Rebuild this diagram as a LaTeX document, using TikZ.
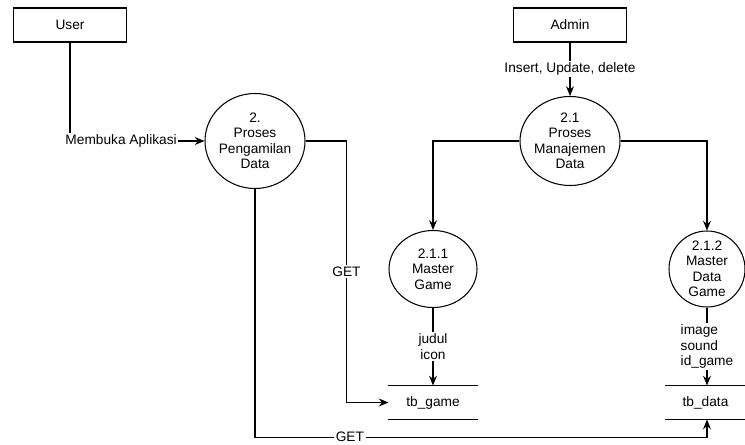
\documentclass[tikz,border=0pt]{standalone}
\usepackage{fontspec}
\setmainfont{Liberation Sans}
\usetikzlibrary{shapes.geometric, arrows.meta, positioning}

\begin{document}
\begin{tikzpicture}[font=\fontsize{7.8}{8.8}\selectfont, line width=0.6pt]
\tikzstyle{entity} = [rectangle, draw, minimum width=2.27cm, minimum height=0.68cm]
\tikzstyle{process} = [ellipse, draw, align=center, inner sep=-4pt]
\tikzstyle{store} = [rectangle, minimum width=1.76cm, minimum height=0.66cm]
\tikzstyle{arrow} = [-{Stealth[length=5.5pt,width=4.5pt]}]
\tikzstyle{lbl} = [fill=white, inner sep=1pt, align=center]

\useasboundingbox (0,0) rectangle (14.9,-8.9);

\node (user) [entity] at (1.4,-0.5) {User};
\node (admin) [entity] at (11.4,-0.5) {Admin};
\node (p2) [process, minimum width=2cm, minimum height=1.9cm] at (5.1,-2.82) {2.\\Proses\\Pengamilan\\Data};
\node (p21) [process, minimum width=2cm, minimum height=1.78cm] at (11.4,-2.82) {2.1\\Proses\\Manajemen\\Data};
\node (p211) [process, minimum width=1.76cm, minimum height=1.54cm] at (8.66,-5.38) {2.1.1\\Master\\Game};
\node (p212) [process, minimum width=1.52cm, minimum height=1.52cm] at (14.14,-5.38) {2.1.2\\Master\\Data\\Game};
\node (tbgame) [store] at (8.66,-8.05) {tb\_game};
\node (tbdata) [store, minimum width=1.58cm] at (14.11,-8.05) {tb\_data};

% data stores
\draw (tbgame.north west) -- (tbgame.north east);
\draw (tbgame.south west) -- (tbgame.south east);
\draw (tbdata.north west) -- (tbdata.north east);
\draw (tbdata.south west) -- (tbdata.south east);

\draw [arrow] (user) |- node[lbl, pos=0.69] {Membuka Aplikasi} (p2);
\draw [arrow] (admin) -- node[lbl] {Insert, Update, delete} (p21);
\draw [arrow] (p21) -| (p211);
\draw [arrow] (p21) -| (p212);
\draw [arrow] (p211) -- node[lbl] {judul\\icon} (tbgame.north);
\draw [arrow] (p212) -- node[lbl, align=left] {image\\sound\\id\_game} (p212.south |- tbdata.north);
\draw [arrow] (p2) -| node[lbl, pos=0.75] {GET} ([xshift=-0.84cm]tbgame.west) -- (tbgame.west);
\draw [arrow] (p2.south) -- ++(0,-4.96) -| node[lbl, pos=0.105] {GET} (p212.south |- tbdata.south);

\end{tikzpicture}
\end{document}
